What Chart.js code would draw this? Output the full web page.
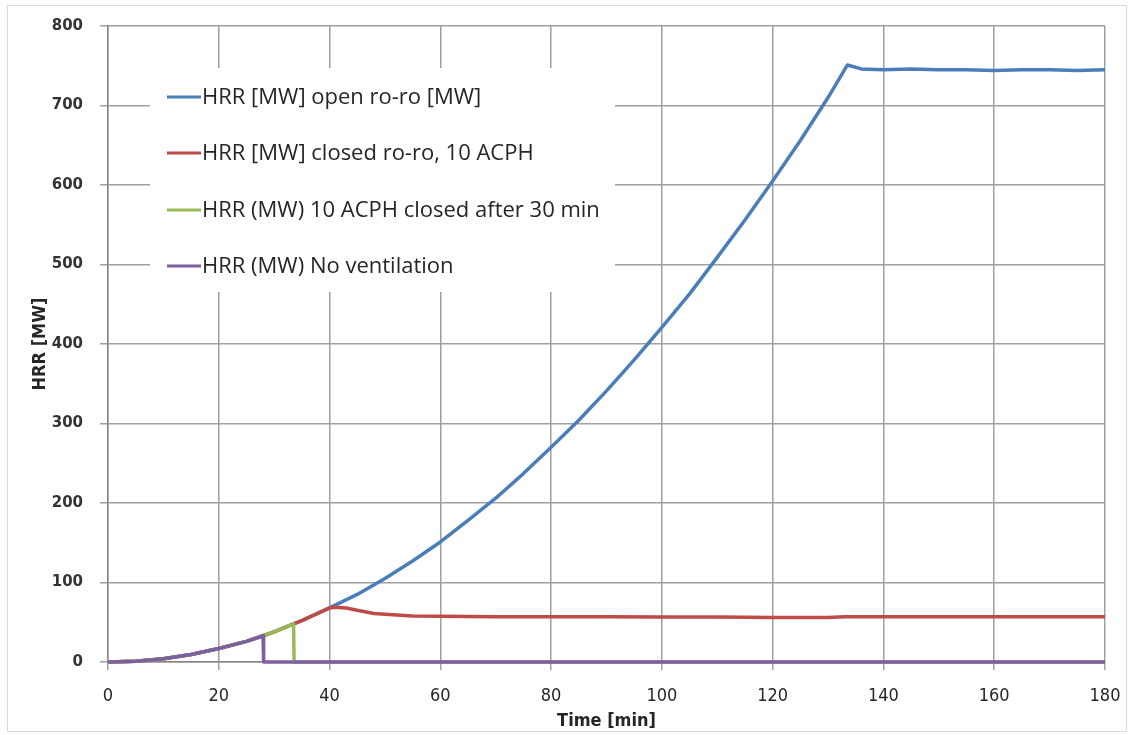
<!DOCTYPE html>
<html>
<head>
<meta charset="utf-8">
<script src="https://cdn.jsdelivr.net/npm/chart.js@4"></script>
<style>
  html, body { margin: 0; padding: 0; background: #fff; }
  #wrap { position: relative; width: 1130px; height: 735px; }
  #frame { position: absolute; left: 7px; top: 5px; width: 1120px; height: 727px; border: 1px solid #d9d9d9; box-sizing: border-box; pointer-events: none; }
</style>
</head>
<body>
<div id="wrap">
  <canvas id="hrrChart" width="1130" height="735"></canvas>
  <div id="frame"></div>
</div>
<script>
// Datos (tiempo en min, HRR en MW)
const openTime = [0, 5, 10, 15, 20, 25, 28, 30, 33.5, 35, 40, 45, 50, 55, 60, 65, 70, 75, 80, 85, 90, 95, 100, 105, 110, 115, 120, 125, 130, 133.5, 136, 140, 145, 150, 155, 160, 165, 170, 175, 180];
const openHrr = [0, 1, 4, 9.5, 17, 26, 33, 38, 48, 52, 68, 85, 105, 127, 151, 178, 206, 237, 270, 304, 341, 380, 421, 463, 509, 556, 605, 656, 710, 751, 746, 745, 746, 745, 745, 744, 745, 745, 744, 745];

const closedTime = [0, 5, 10, 15, 20, 25, 28, 30, 33.5, 35, 40, 41, 43, 45, 48, 50, 55, 60, 70, 80, 90, 100, 110, 120, 130, 133, 140, 150, 160, 170, 180];
const closedHrr = [0, 1, 4, 9.5, 17, 26, 33, 38, 48, 52, 68, 69, 68, 65, 61, 60, 58, 57.5, 57, 57, 57, 56.5, 56.5, 56, 56, 57, 57, 57, 57, 57, 57];

const after30Time = [0, 5, 10, 15, 20, 25, 28, 30, 33.5, 33.6, 60, 120, 180];
const after30Hrr = [0, 1, 4, 9.5, 17, 26, 33, 38, 48, 0, 0, 0, 0];

const noVentTime = [0, 5, 10, 15, 20, 25, 28, 28.1, 60, 120, 180];
const noVentHrr = [0, 1, 4, 9.5, 17, 26, 33, 0, 0, 0, 0];

const seriesLabels = [
  'HRR [MW] open ro-ro [MW]',
  'HRR [MW] closed ro-ro, 10 ACPH',
  'HRR (MW) 10 ACPH closed after 30 min',
  'HRR (MW) No ventilation'
];
const seriesColors = ['#4a7ebb', '#be4b48', '#98b954', '#7d60a0'];

const yTicks = [0, 100, 200, 300, 400, 500, 600, 700, 800];
const xTicks = [0, 20, 40, 60, 80, 100, 120, 140, 160, 180];

/**
 * Une los tiempos y valores en puntos {x, y}.
 */
const toPoints = (times, values) => times.map((t, i) => ({ x: t, y: values[i] }));

// Leyenda dentro del área del gráfico con fondo blanco
const insideLegend = {
  id: 'insideLegend',
  afterDatasetsDraw(chart) {
    const ctx = chart.ctx;
    ctx.save();
    ctx.fillStyle = '#ffffff';
    ctx.fillRect(150, 68, 465, 224);
    const rows = [97, 153, 210, 266];
    chart.data.datasets.forEach((ds, i) => {
      ctx.strokeStyle = ds.borderColor;
      ctx.lineWidth = 3;
      ctx.beginPath();
      ctx.moveTo(167, rows[i]);
      ctx.lineTo(201, rows[i]);
      ctx.stroke();
      ctx.fillStyle = '#262626';
      ctx.font = '22px "Open Sans", sans-serif';
      ctx.textBaseline = 'middle';
      ctx.fillText(ds.label, 202, rows[i] + 1);
    });
    ctx.restore();
  }
};

const datasets = [
  toPoints(openTime, openHrr),
  toPoints(closedTime, closedHrr),
  toPoints(after30Time, after30Hrr),
  toPoints(noVentTime, noVentHrr)
].map((pts, i) => ({
  label: seriesLabels[i],
  data: pts,
  borderColor: seriesColors[i],
  backgroundColor: seriesColors[i],
  borderWidth: 3.5,
  pointRadius: 0,
  tension: 0,
  borderJoinStyle: 'round',
  clip: false,
  order: 4 - i
}));

const axisTitleFont = { family: '"Liberation Sans Narrow", "DejaVu Sans Condensed", sans-serif', size: 18, weight: 'bold' };

new Chart(document.getElementById('hrrChart'), {
  type: 'line',
  data: { datasets },
  options: {
    responsive: false,
    animation: false,
    layout: { padding: { left: 0, right: 0, top: 24, bottom: 0 } },
    plugins: {
      legend: { display: false },
      tooltip: { enabled: false }
    },
    scales: {
      x: {
        type: 'linear',
        min: 0,
        max: 180,
        afterBuildTicks: (axis) => { axis.ticks = xTicks.map(v => ({ value: v })); },
        afterFit: (axis) => {
          axis.height = 73;
          axis.paddingRight = 25;
        },
        grid: { color: '#a0a0a0', lineWidth: 1.5, tickLength: 8 },
        border: { color: '#868686', width: 1.5 },
        ticks: {
          color: '#262626',
          padding: 16,
          maxRotation: 0,
          font: { family: '"Liberation Sans Narrow", "DejaVu Sans Condensed", sans-serif', size: 18 }
        },
        title: {
          display: true,
          text: 'Time [min]',
          color: '#262626',
          font: axisTitleFont,
          padding: { top: 0, bottom: 3 }
        }
      },
      y: {
        min: 0,
        max: 800,
        afterBuildTicks: (axis) => { axis.ticks = yTicks.map(v => ({ value: v })); },
        afterFit: (axis) => { axis.width = 108; },
        grid: { color: '#a0a0a0', lineWidth: 1.5, tickLength: 8 },
        border: { color: '#868686', width: 1.5 },
        ticks: {
          color: '#333333',
          padding: 17,
          font: { family: '"DejaVu Sans", sans-serif', size: 15, weight: 'bold' }
        },
        title: {
          display: true,
          text: 'HRR [MW]',
          color: '#262626',
          font: axisTitleFont,
          padding: { top: 30, bottom: 0 }
        }
      }
    }
  },
  plugins: [insideLegend]
});
</script>
</body>
</html>
